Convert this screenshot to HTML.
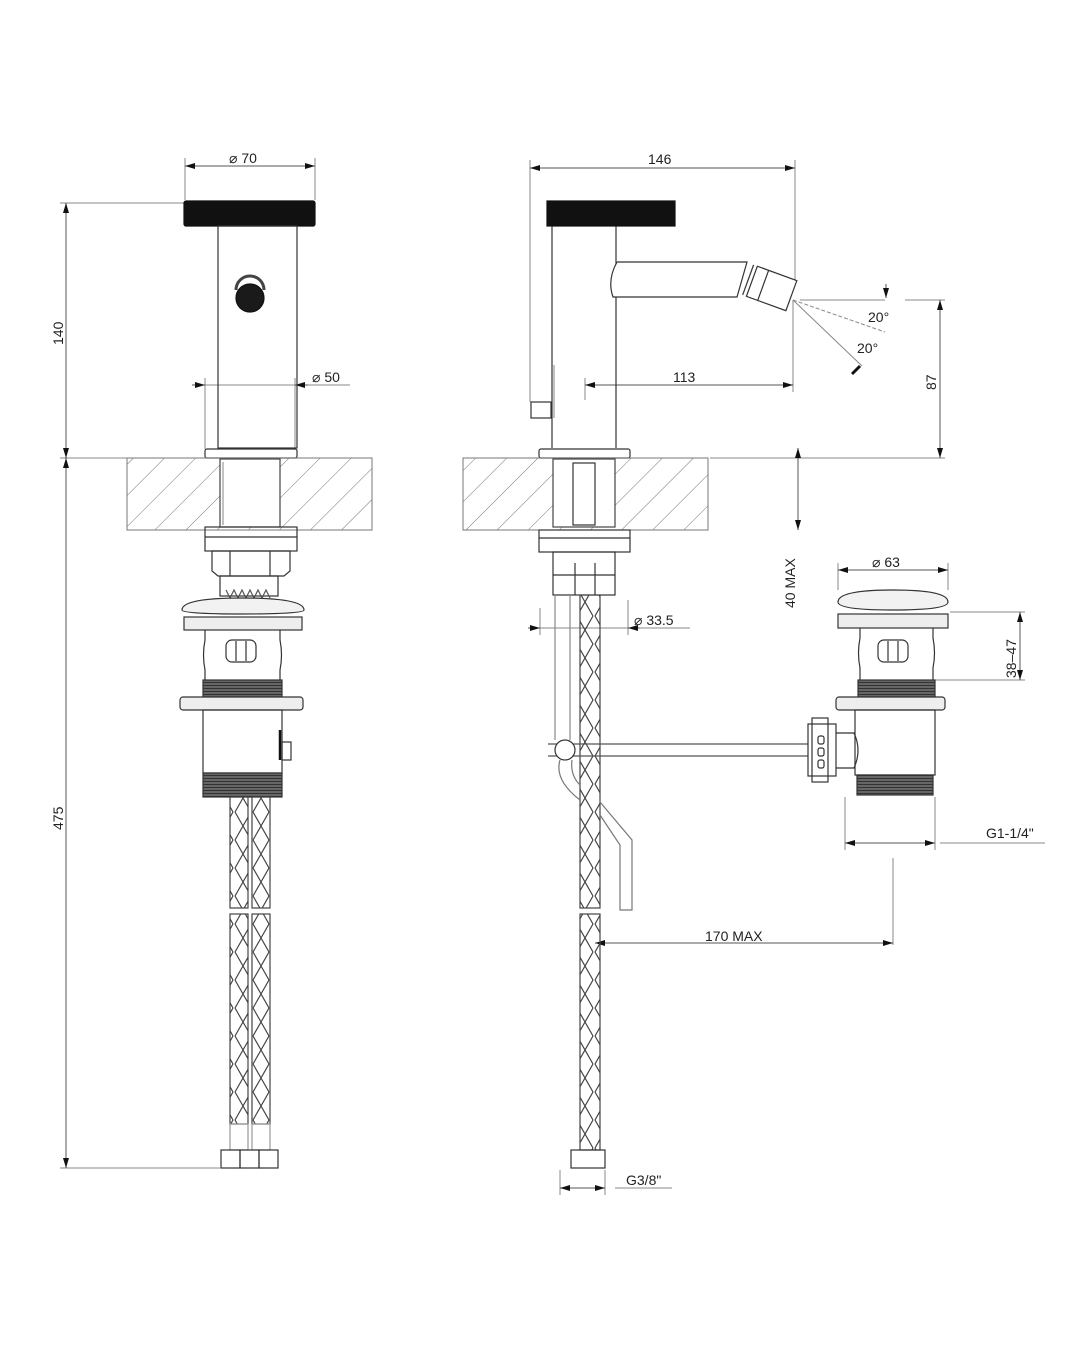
<!DOCTYPE html>
<html><head><meta charset="utf-8"><style>
html,body{margin:0;padding:0;background:#fff}
svg{display:block}
text{font-family:"Liberation Sans",Arial,sans-serif;font-size:14px;fill:#222}
</style></head><body>
<svg width="1080" height="1350" viewBox="0 0 1080 1350" xmlns="http://www.w3.org/2000/svg">
<defs>
<pattern id="hatch" patternUnits="userSpaceOnUse" width="22" height="22" patternTransform="rotate(45)">
<line x1="0" y1="0" x2="0" y2="22" stroke="#777" stroke-width="1"/>
</pattern>
<pattern id="braid" patternUnits="userSpaceOnUse" width="18" height="28">
<path d="M1 0 L17 28 M17 0 L1 28" stroke="#444" stroke-width="1.2" fill="none"/>
</pattern>
<pattern id="thread" patternUnits="userSpaceOnUse" width="6" height="3">
<rect width="6" height="3" fill="#666"/><line x1="0" y1="1.5" x2="6" y2="1.5" stroke="#333" stroke-width="1"/>
</pattern>
<marker id="ar" markerWidth="10" markerHeight="6" refX="10" refY="3" orient="auto-start-reverse" markerUnits="userSpaceOnUse">
<path d="M0 0 L10 3 L0 6 Z" fill="#111"/>
</marker>
</defs>
<g stroke="#333" stroke-width="1.2" fill="none">

<g stroke="#888" stroke-width="1">
<line x1="185" y1="158" x2="185" y2="200"/><line x1="315" y1="158" x2="315" y2="200"/>
<line x1="60" y1="203" x2="184" y2="203"/>
<line x1="60" y1="458" x2="127" y2="458"/>
<line x1="60" y1="1168" x2="220" y2="1168"/>
<line x1="205" y1="378" x2="205" y2="449"/><line x1="295" y1="378" x2="295" y2="449"/>
<line x1="305" y1="385" x2="350" y2="385"/>
</g>
<line x1="185" y1="166" x2="315" y2="166" stroke="#555" stroke-width="1" marker-start="url(#ar)" marker-end="url(#ar)"/>
<line x1="66" y1="203" x2="66" y2="458" stroke="#555" stroke-width="1" marker-start="url(#ar)" marker-end="url(#ar)"/>
<line x1="66" y1="458" x2="66" y2="1168" stroke="#555" stroke-width="1" marker-start="url(#ar)" marker-end="url(#ar)"/>
<line x1="192" y1="385" x2="205" y2="385" stroke="#555" stroke-width="1" marker-end="url(#ar)"/>
<line x1="205" y1="385" x2="295" y2="385" stroke="#888" stroke-width="1"/>
<line x1="308" y1="385" x2="295" y2="385" stroke="#555" stroke-width="1" marker-end="url(#ar)"/>

<rect x="184" y="201" width="131" height="25" rx="2" fill="#111" stroke="#111"/>
<rect x="218" y="226" width="79" height="222"/>
<path d="M236 290 a14 14 0 0 1 28 0" stroke="#444" stroke-width="3"/>
<circle cx="250" cy="298" r="14" fill="#1a1a1a" stroke="#111"/>
<rect x="205" y="449" width="92" height="9" rx="2"/>
<rect x="127" y="458" width="245" height="72" fill="url(#hatch)" stroke="#777" stroke-width="1"/>
<rect x="220" y="459" width="60" height="68" fill="#fff" stroke="#444"/>
<line x1="223" y1="462" x2="223" y2="525" stroke="#999"/>
<rect x="205" y="527" width="92" height="24"/>
<line x1="205" y1="537" x2="297" y2="537"/>
<path d="M212 551 h78 v20 l-6 5 h-66 l-6 -5 z"/>
<line x1="230" y1="551" x2="230" y2="576"/><line x1="270" y1="551" x2="270" y2="576"/>
<rect x="220" y="576" width="58" height="20"/>
<path d="M226 590 l4 8 l4 -8 l4 8 l4 -8 l4 8 l4 -8 l4 8 l4 -8 l4 8 l4 -8 l4 8" stroke="#555"/>
<path d="M182 610 q0 -12 60 -12 q62 0 62 12 q0 4 -62 4 q-60 0 -60 -4 z" fill="#f2f2f2"/>
<rect x="184" y="617" width="118" height="13" fill="#eee"/>
<path d="M205 630 v10 q-3 15 0 30 v10 M280 630 v10 q3 15 0 30 v10"/>
<rect x="226" y="640" width="30" height="22" rx="6"/>
<line x1="236" y1="641" x2="236" y2="661"/><line x1="246" y1="641" x2="246" y2="661"/>
<rect x="203" y="680" width="79" height="17" fill="url(#thread)"/>
<rect x="180" y="697" width="123" height="13" rx="3" fill="#eee"/>
<rect x="203" y="710" width="79" height="63"/>
<rect x="282" y="742" width="9" height="18"/>
<line x1="280" y1="730" x2="280" y2="760" stroke="#111" stroke-width="2.5"/>
<rect x="203" y="773" width="79" height="24" fill="url(#thread)"/>
<rect x="230" y="797" width="18" height="111" fill="url(#braid)" stroke="#444"/>
<rect x="252" y="797" width="18" height="111" fill="url(#braid)" stroke="#444"/>
<rect x="230" y="914" width="18" height="210" fill="url(#braid)" stroke="#444"/>
<rect x="252" y="914" width="18" height="210" fill="url(#braid)" stroke="#444"/>
<rect x="230" y="1124" width="18" height="26" stroke="#999"/><rect x="252" y="1124" width="18" height="26" stroke="#999"/>
<rect x="221" y="1150" width="19" height="18"/><rect x="240" y="1150" width="19" height="18"/><rect x="259" y="1150" width="19" height="18"/>

<g stroke="#888" stroke-width="1">
<line x1="530" y1="160" x2="530" y2="402"/><line x1="795" y1="160" x2="795" y2="285"/>
<line x1="793" y1="300" x2="793" y2="392"/>
<line x1="585" y1="378" x2="585" y2="400"/>
<line x1="710" y1="458" x2="945" y2="458"/>
<line x1="800" y1="300" x2="885" y2="300"/><line x1="905" y1="300" x2="945" y2="300"/>
<line x1="793" y1="300" x2="885" y2="332" stroke-dasharray="4 2"/>
<line x1="793" y1="300" x2="862" y2="366"/>
<line x1="540" y1="608" x2="540" y2="635"/><line x1="628" y1="600" x2="628" y2="635"/>
<line x1="630" y1="628" x2="690" y2="628"/>
<line x1="838" y1="563" x2="838" y2="590"/><line x1="948" y1="563" x2="948" y2="590"/>
<line x1="950" y1="612" x2="1025" y2="612"/><line x1="935" y1="680" x2="1025" y2="680"/>
<line x1="845" y1="797" x2="845" y2="850"/><line x1="935" y1="797" x2="935" y2="850"/>
<line x1="940" y1="843" x2="1045" y2="843"/>
<line x1="893" y1="858" x2="893" y2="945"/>
<line x1="560" y1="1170" x2="560" y2="1195"/><line x1="605" y1="1170" x2="605" y2="1195"/>
<line x1="615" y1="1188" x2="672" y2="1188"/>
</g>
<line x1="530" y1="168" x2="795" y2="168" stroke="#555" stroke-width="1" marker-start="url(#ar)" marker-end="url(#ar)"/>
<line x1="585" y1="385" x2="793" y2="385" stroke="#555" stroke-width="1" marker-start="url(#ar)" marker-end="url(#ar)"/>
<line x1="940" y1="300" x2="940" y2="458" stroke="#555" stroke-width="1" marker-start="url(#ar)" marker-end="url(#ar)"/>
<line x1="798" y1="448" x2="798" y2="530" stroke="#555" stroke-width="1" marker-start="url(#ar)" marker-end="url(#ar)"/>
<line x1="886" y1="284" x2="886" y2="298" stroke="#555" stroke-width="1" marker-end="url(#ar)"/>
<line x1="852" y1="374" x2="860" y2="366" stroke="#111" stroke-width="3"/>
<line x1="528" y1="628" x2="540" y2="628" stroke="#555" stroke-width="1" marker-end="url(#ar)"/>
<line x1="540" y1="628" x2="628" y2="628" stroke="#888" stroke-width="1"/>
<line x1="640" y1="628" x2="628" y2="628" stroke="#555" stroke-width="1" marker-end="url(#ar)"/>
<line x1="838" y1="570" x2="948" y2="570" stroke="#555" stroke-width="1" marker-start="url(#ar)" marker-end="url(#ar)"/>
<line x1="1020" y1="612" x2="1020" y2="680" stroke="#555" stroke-width="1" marker-start="url(#ar)" marker-end="url(#ar)"/>
<line x1="845" y1="843" x2="935" y2="843" stroke="#555" stroke-width="1" marker-start="url(#ar)" marker-end="url(#ar)"/>
<line x1="595" y1="943" x2="893" y2="943" stroke="#555" stroke-width="1" marker-start="url(#ar)" marker-end="url(#ar)"/>
<line x1="560" y1="1188" x2="605" y2="1188" stroke="#555" stroke-width="1" marker-start="url(#ar)" marker-end="url(#ar)"/>

<rect x="547" y="201" width="128" height="25" fill="#111" stroke="#111"/>
<line x1="552" y1="226" x2="552" y2="448"/><line x1="616" y1="226" x2="616" y2="448"/>
<path d="M617 262 h130 l-10 35 h-124 q-6 -17 4 -35" fill="#fff"/>
<g transform="rotate(20 770 290)"><rect x="750" y="272" width="42" height="32" fill="#fff"/><line x1="762" y1="272" x2="762" y2="304"/><line x1="746" y1="272" x2="746" y2="304"/></g>
<line x1="554" y1="365" x2="554" y2="418" stroke="#999"/>
<rect x="531" y="402" width="20" height="16"/>
<rect x="539" y="449" width="91" height="9" rx="2"/>
<rect x="463" y="458" width="245" height="72" fill="url(#hatch)" stroke="#777" stroke-width="1"/>
<rect x="553" y="459" width="62" height="68" fill="#fff" stroke="#444"/>
<rect x="573" y="463" width="22" height="62"/>
<rect x="539" y="530" width="91" height="22"/>
<line x1="539" y1="538" x2="630" y2="538"/>
<rect x="553" y="552" width="62" height="43"/>
<line x1="553" y1="575" x2="615" y2="575"/><line x1="575" y1="563" x2="575" y2="595"/><line x1="595" y1="563" x2="595" y2="595"/>
<line x1="555" y1="595" x2="555" y2="740" stroke="#888"/><line x1="570" y1="595" x2="570" y2="740" stroke="#888"/>
<rect x="580" y="595" width="20" height="313" fill="url(#braid)" stroke="#444"/>
<rect x="580" y="914" width="20" height="236" fill="url(#braid)" stroke="#444"/>
<path d="M548 744 h262 M548 756 h262" stroke="#555"/>
<circle cx="565" cy="750" r="10" fill="#fff"/>
<path d="M560 760 q-6 20 20 40 M572 760 q-2 15 8 25" stroke="#777"/>
<path d="M600 815 l20 30 v65 h12 v-70 l-32 -38" stroke="#777"/>
<rect x="808" y="724" width="28" height="52" fill="#fff"/>
<rect x="812" y="718" width="16" height="64"/>
<rect x="818" y="736" width="6" height="8" rx="2"/><rect x="818" y="748" width="6" height="8" rx="2"/><rect x="818" y="760" width="6" height="8" rx="2"/>
<path d="M836 733 h18 q8 17 0 35 h-18"/>
<rect x="571" y="1150" width="34" height="18"/>
<path d="M838 602 q0 -12 55 -12 q55 0 55 12 q0 8 -55 8 q-55 0 -55 -8 z" fill="#f2f2f2"/>
<rect x="838" y="614" width="110" height="14" fill="#eee"/>
<path d="M860 628 v10 q-3 15 0 30 v12 M933 628 v10 q3 15 0 30 v12"/>
<rect x="878" y="640" width="30" height="22" rx="6"/>
<line x1="888" y1="641" x2="888" y2="661"/><line x1="898" y1="641" x2="898" y2="661"/>
<rect x="858" y="680" width="77" height="17" fill="url(#thread)"/>
<rect x="836" y="697" width="109" height="13" rx="3" fill="#eee"/>
<rect x="855" y="710" width="80" height="65"/>
<rect x="857" y="775" width="76" height="20" fill="url(#thread)"/>
</g>

<g>
<text x="229" y="163">⌀ 70</text>
<text x="312" y="382">⌀ 50</text>
<text transform="translate(63 345) rotate(-90)">140</text>
<text transform="translate(63 830) rotate(-90)">475</text>
<text x="648" y="164">146</text>
<text x="673" y="382">113</text>
<text x="868" y="322">20°</text>
<text x="857" y="353">20°</text>
<text transform="translate(936 390) rotate(-90)">87</text>
<text transform="translate(795 608) rotate(-90)">40 MAX</text>
<text x="634" y="625">⌀ 33.5</text>
<text x="872" y="567">⌀ 63</text>
<text transform="translate(1016 678) rotate(-90)">38–47</text>
<text x="986" y="838">G1-1/4"</text>
<text x="705" y="941">170 MAX</text>
<text x="626" y="1185">G3/8"</text>
</g>
</svg>
</body></html>
